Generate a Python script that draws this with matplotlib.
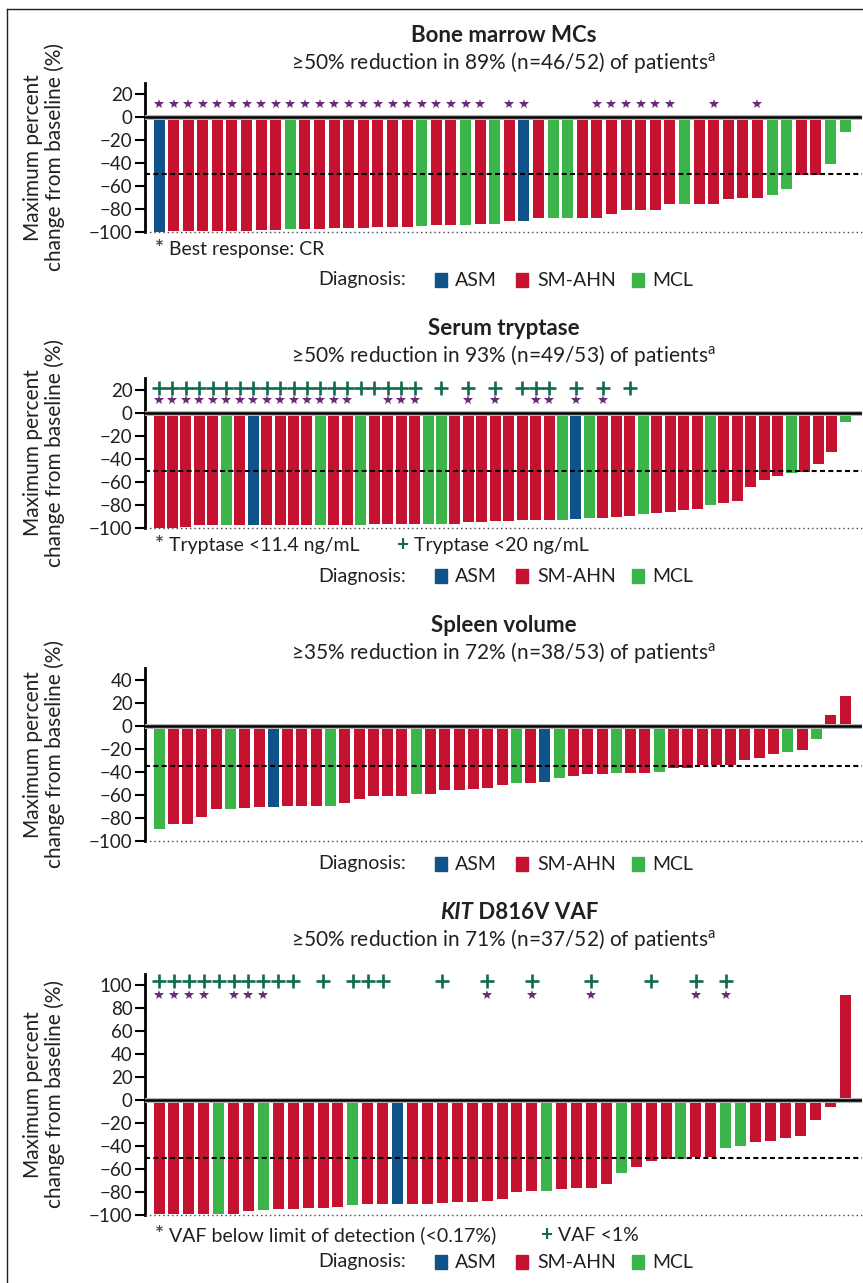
import matplotlib
matplotlib.use("Agg")
import matplotlib.pyplot as plt
from matplotlib.patches import Rectangle
from matplotlib.lines import Line2D
import numpy as np

plt.rcParams['font.family'] = ['Lato', 'DejaVu Sans']
plt.rcParams['mathtext.fontset'] = 'custom'
plt.rcParams['mathtext.rm'] = 'Lato'
plt.rcParams['mathtext.it'] = 'Lato:italic'
plt.rcParams['mathtext.bf'] = 'Lato:bold'

# diagnosis per bar: B = ASM, R = SM-AHN, G = MCL
bm_dx = list("BRRRRRRRRGRRRRRRRRGRRGRGRBRGGRRRRRRRGRRRRRGGRRGG")
bm_values = [-100, -99, -99, -99, -99, -99, -99, -98.5, -98.5, -97.5,
             -97.5, -97.5, -96.5, -96.5, -96.5, -95.5, -95.5, -95.5, -95, -94,
             -94, -94, -93, -93, -90.5, -90.5, -88, -88, -88, -88,
             -88, -84.5, -81, -81, -81, -75.5, -75.5, -75.5, -75.5, -72,
             -70.5, -70.5, -68.5, -62.5, -50.5, -50.5, -41, -13]
bm_cr = list(range(1, 24)) + [25, 26, 31, 32, 33, 34, 35, 36, 39, 42]

tr_dx = list("RRRRRGRBRRRRGRRGRRRRGGRRRRRRRRGBGRRRGRRRRGRRRRRGRRRG")
tr_values = [-100, -100, -99, -98, -98, -98, -98, -98, -98, -98,
             -97.5, -97.5, -97.5, -97.5, -97.5, -97.5, -96.5, -96.5, -96.5, -96.5,
             -96.5, -96.5, -96.5, -95, -95, -94, -94, -93, -93, -93,
             -93, -92, -91.5, -91.5, -90.5, -89.5, -88, -87, -86, -84.5,
             -83.5, -80, -78, -76.5, -64, -58, -54.5, -52, -51, -44,
             -33.5, -8]
tr_below_11 = list(range(1, 16)) + [18, 19, 20, 24, 26, 29, 30, 32, 34]
tr_below_20 = list(range(1, 21)) + [22, 24, 26, 28, 29, 30, 32, 34, 36]

sp_dx = list("GRRRRGRRBRRRGRRRRRGRRRRRRGRBGRRRGRRGRRRRRRRRGRGRR")
sp_values = [-89.5, -85, -85, -79, -72, -72, -71, -70.5, -70.5, -69.5,
             -69.5, -69.5, -69.5, -67, -63.5, -61, -61, -61, -59, -59,
             -55.5, -55.5, -55, -54, -51.5, -49.5, -49.5, -48.5, -45, -43.5,
             -41.5, -41.5, -41, -41, -41, -40, -36.5, -36.5, -34, -34,
             -34, -29.5, -28, -24.5, -22.5, -21, -11.5, 9.5, 26]

kit_dx = list("RRRRGRRGRRRRRGRRBRRRRRRRRRGRRRRGRRRGRRGGRRRRRRR")
kit_values = [-99, -99, -99, -99, -99, -99, -96.5, -95.5, -95, -95,
              -94, -94, -93, -91.5, -90.5, -90.5, -90.5, -90.5, -90.5, -89.5,
              -88.5, -88.5, -88, -86, -80, -79, -79, -77.5, -76.5, -76.5,
              -73, -63.5, -58.5, -53, -51.5, -51.5, -49.5, -49.5, -41.5, -40,
              -36.5, -35.5, -33, -31.5, -17.5, -6, 91]
kit_lod = [1, 2, 3, 4, 6, 7, 8, 23, 26, 30, 37, 39]
kit_below_1 = list(range(1, 11)) + [12, 14, 15, 16, 20, 23, 26, 30, 34, 37, 39]

COLORS = {'B': '#10538a', 'R': '#c41230', 'G': '#3bb54a'}
STAR = '#6a2c78'
PLUS = '#0d6b4f'
INK = '#231f20'

W, H = 863, 1283


def fx(x):
    return x / W


def fy(y):
    return 1 - y / H


def draw_panel(fig, top, bottom, ytop, yticks, values, dx, threshold,
               marks=()):
    ax = fig.add_axes([fx(145), fy(bottom), fx(862) - fx(145), (bottom - top) / H])
    n = len(values)
    step = (845 - 159) / (n - 1)
    x = np.arange(n)
    ax.bar(x, values, width=11 / step, color=[COLORS[c] for c in dx], zorder=2)
    ax.set_xlim(-(159 - 145) / step, n - 1 + (862 - 845) / step)
    ax.set_ylim(-100, ytop)
    ax.set_yticks(yticks)
    ax.set_xticks([])
    for side in ['top', 'right', 'bottom']:
        ax.spines[side].set_visible(False)
    ax.spines['left'].set_linewidth(2)
    ax.spines['left'].set_color('black')
    ax.tick_params(axis='y', length=7, width=1.5, labelsize=13.5,
                   labelcolor=INK, pad=2)

    ax.axhline(0, color='#b5b5b5', lw=3.6, zorder=3)
    ax.axhline(0, color='black', lw=1.8, zorder=4)
    ax.axhline(threshold, color='black', lw=1.5, ls=(0, (2.4, 1.6)), zorder=4)
    ax.axhline(-100, color='#444444', lw=1, ls=(0, (1, 2.2)), zorder=4,
               clip_on=False)

    for idx, yv, kind in marks:
        xs = [i - 1 for i in idx]
        if kind == '*':
            ax.plot(xs, [yv] * len(xs), ls='none', marker='*', ms=7.5,
                    color=STAR, mew=0, zorder=5)
        else:
            ax.plot(xs, [yv] * len(xs), ls='none', marker='+', ms=9.5,
                    mew=1.9, color=PLUS, zorder=5)

    fig.text(fx(44), fy((top + bottom) / 2),
             "Maximum percent\nchange from baseline (%)", rotation=90,
             ha='center', va='center', fontsize=15, linespacing=1.05,
             color=INK)
    return ax


def titles(fig, base, title, subtitle):
    if title is not None:
        fig.text(fx(503.5), fy(base), title, ha='center', va='baseline',
                 fontsize=16, weight='bold', color=INK)
    fig.text(fx(503.5), fy(base + 27), subtitle, ha='center', va='baseline',
             fontsize=15, color=INK)


def legend_row(fig, yc):
    fig.text(fx(318), fy(yc), "Diagnosis:", ha='left', va='center',
             fontsize=14, color=INK)
    for xs, xt, code, label in [(435, 455, 'B', 'ASM'),
                                (516, 537, 'R', 'SM-AHN'),
                                (632, 652, 'G', 'MCL')]:
        fig.add_artist(Rectangle((fx(xs), fy(yc + 7)), 12 / W, 14 / H,
                                 transform=fig.transFigure,
                                 color=COLORS[code]))
        fig.text(fx(xt), fy(yc), label, ha='left', va='center',
                 fontsize=14, color=INK)


def footnote(fig, base, items):
    for xm, xt, sym, text in items:
        col = STAR if sym == '*' else PLUS
        fig.text(fx(xm), fy(base), sym, ha='left', va='baseline',
                 fontsize=15, color=col, weight='bold')
        fig.text(fx(xt), fy(base), text, ha='left', va='baseline',
                 fontsize=14, color=INK)


fig = plt.figure(figsize=(W / 100, H / 100), dpi=100)

# frame
fig.add_artist(Line2D([fx(7), fx(7)], [fy(9), 0], color=INK, lw=1))
fig.add_artist(Line2D([fx(7), 1], [fy(9), fy(9)], color=INK, lw=1))

# Bone marrow MCs
draw_panel(fig, 83, 231.7, 29.3, range(-100, 21, 20), bm_values, bm_dx, -50,
           marks=[(bm_cr, 11, '*')])
titles(fig, 42, "Bone marrow MCs",
       r"≥50% reduction in 89% (n=46/52) of patients$^{\mathrm{a}}$")
footnote(fig, 255, [(155, 169, '*', "Best response: CR")])
legend_row(fig, 280)

# Serum tryptase
draw_panel(fig, 378, 527.7, 30.9, range(-100, 21, 20), tr_values, tr_dx, -50,
           marks=[(tr_below_11, 11.5, '*'), (tr_below_20, 22.5, '+')])
titles(fig, 335, "Serum tryptase",
       r"≥50% reduction in 93% (n=49/53) of patients$^{\mathrm{a}}$")
footnote(fig, 551, [(155, 169, '*', "Tryptase <11.4 ng/mL"),
                    (397, 414, '+', "Tryptase <20 ng/mL")])
legend_row(fig, 576)

# Spleen volume
draw_panel(fig, 668, 841, 50.4, range(-100, 41, 20), sp_values, sp_dx, -35)
titles(fig, 632, "Spleen volume",
       r"≥35% reduction in 72% (n=38/53) of patients$^{\mathrm{a}}$")
legend_row(fig, 864)

# KIT D816V VAF
ax4 = draw_panel(fig, 974, 1215, 109.6, range(-100, 101, 20), kit_values,
                 kit_dx, -50,
                 marks=[(kit_lod, 91, '*'), (kit_below_1, 103.5, '+')])
t = fig.text(fx(440), fy(919), "KIT", ha='left', va='baseline', fontsize=16,
             weight='bold', style='italic', color=INK)
ax4.annotate(" D816V VAF", xy=(1, 0), xycoords=t, ha='left', va='bottom',
             fontsize=16, weight='bold', color=INK, annotation_clip=False)
titles(fig, 919, None,
       r"≥50% reduction in 71% (n=37/52) of patients$^{\mathrm{a}}$")
footnote(fig, 1241, [(155, 169, '*', "VAF below limit of detection (<0.17%)"),
                     (541, 558, '+', "VAF <1%")])
legend_row(fig, 1262)

fig.savefig("out.png", dpi=100)
